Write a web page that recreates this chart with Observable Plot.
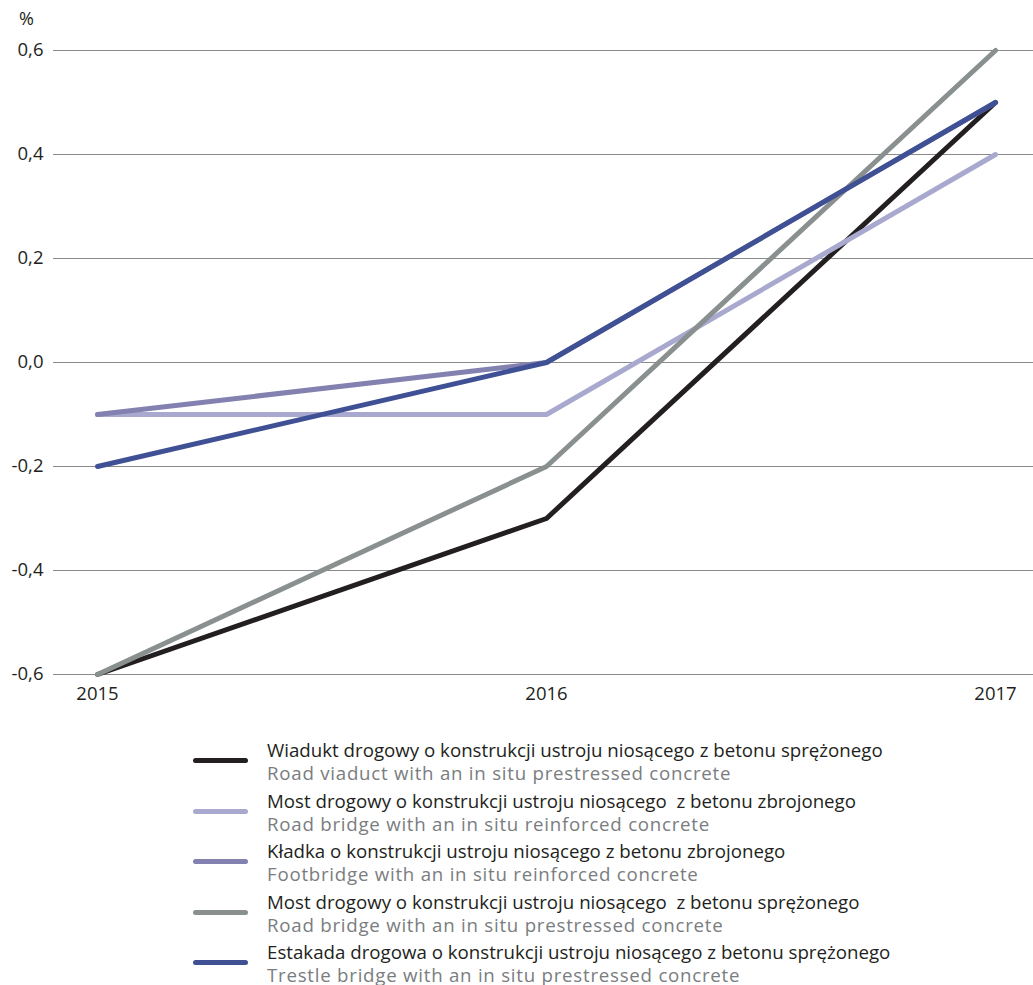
<!DOCTYPE html>
<html>
<head>
<meta charset="utf-8">
<script src="https://cdn.jsdelivr.net/npm/d3@7"></script>
<script src="https://cdn.jsdelivr.net/npm/@observablehq/plot@0.6"></script>
<style>
  body { margin: 0; background: #fff; font-family: "Open Sans", sans-serif; }
  #wrap { position: relative; width: 1033px; height: 985px; }
  #unit { position: absolute; left: 19px; top: 6px; font-size: 18px; color: #231f20; }
  #legend { position: absolute; left: 193px; top: 738px; }
  .item { position: relative; height: 50.5px; }
  .sw { position: absolute; left: 0; top: 20px; width: 55px; height: 5px; border-radius: 3px; }
  .pl { position: absolute; left: 74px; top: 0; font-size: 18.7px; color: #231f20; white-space: pre; line-height: 23px; }
  .en { position: absolute; left: 74px; top: 23px; font-size: 18.7px; letter-spacing: 0.75px; color: #7a7d80; white-space: pre; line-height: 23px; }
</style>
</head>
<body>
<div id="wrap">
  <div id="chart"></div>
  <div id="unit">%</div>
  <div id="legend"></div>
</div>
<script>
const years = [2015, 2016, 2017];
const yTicks = [-0.6, -0.4, -0.2, 0.0, 0.2, 0.4, 0.6];
const seriesNamesPL = [
  "Wiadukt drogowy o konstrukcji ustroju niosącego z betonu sprężonego",
  "Most drogowy o konstrukcji ustroju niosącego  z betonu zbrojonego",
  "Kładka o konstrukcji ustroju niosącego z betonu zbrojonego",
  "Most drogowy o konstrukcji ustroju niosącego  z betonu sprężonego",
  "Estakada drogowa o konstrukcji ustroju niosącego z betonu sprężonego"
];
const seriesNamesEN = [
  "Road viaduct with an in situ prestressed concrete",
  "Road bridge with an in situ reinforced concrete",
  "Footbridge with an in situ reinforced concrete",
  "Road bridge with an in situ prestressed concrete",
  "Trestle bridge with an in situ prestressed concrete"
];
const colors = ["#231f20", "#a9a9cf", "#8281b0", "#8a9090", "#3f5194"];
const wiadukt = [-0.6, -0.3, 0.5];
const mostZbrojony = [-0.1, -0.1, 0.4];
const kladka = [-0.1, 0.0, 0.5];
const mostSprezony = [-0.6, -0.2, 0.6];
const estakada = [-0.2, 0.0, 0.5];
const seriesValues = [wiadukt, mostZbrojony, kladka, mostSprezony, estakada];

const data = [];
seriesValues.forEach((vals, i) => {
  vals.forEach((v, j) => data.push({ s: seriesNamesPL[i], year: years[j], value: v }));
});

const fmt = d => d.toFixed(1).replace(".", ",");

const chart = Plot.plot({
  width: 1033,
  height: 710,
  marginLeft: 53,
  marginRight: 0,
  marginTop: 50,
  marginBottom: 36,
  style: { fontFamily: "'Open Sans', sans-serif", fontSize: "18px", color: "#231f20", background: "#fff" },
  x: { domain: [2015, 2017], range: [97, 995], label: null },
  y: { domain: [-0.6, 0.6], label: null },
  color: { domain: seriesNamesPL, range: colors },
  marks: [
    Plot.ruleY(yTicks, { stroke: "#8a8a8a", strokeWidth: 1.2 }),
    Plot.line(data, { x: "year", y: "value", z: "s", stroke: "s", strokeWidth: 5, strokeLinecap: "round", strokeLinejoin: "round" }),
    Plot.axisX({ ticks: years, tickFormat: d => String(d), tickSize: 0, tickPadding: 12, fontSize: 18.5 }),
    Plot.axisY({ ticks: yTicks, tickFormat: fmt, tickSize: 0, tickPadding: 10, fontSize: 18.5 })
  ]
});
document.getElementById("chart").appendChild(chart);

const legend = document.getElementById("legend");
seriesNamesPL.forEach((name, i) => {
  const item = document.createElement("div");
  item.className = "item";
  item.innerHTML = `<div class="sw" style="background:${colors[i]}"></div><div class="pl">${name}</div><div class="en">${seriesNamesEN[i]}</div>`;
  legend.appendChild(item);
});
</script>
</body>
</html>
